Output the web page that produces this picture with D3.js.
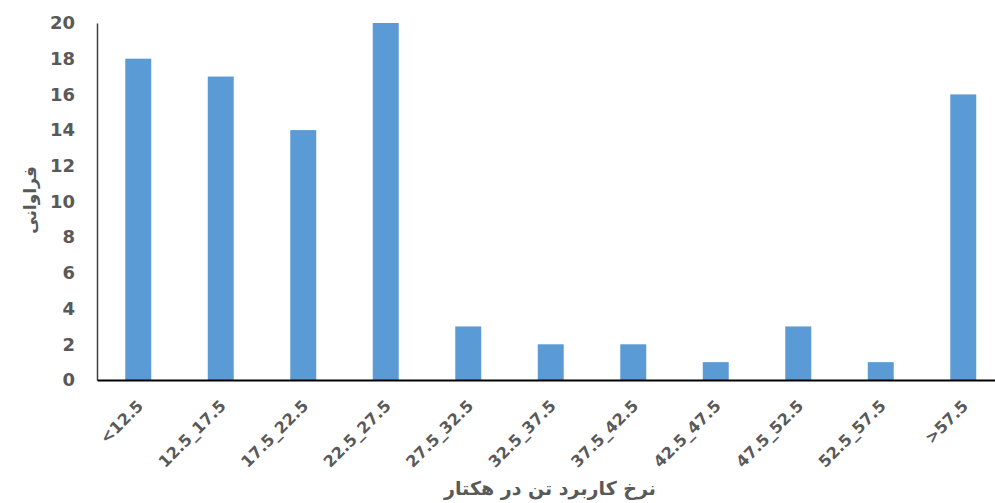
<!DOCTYPE html>
<html>
<head>
<meta charset="utf-8">
<script src="https://cdn.jsdelivr.net/npm/d3@7"></script>
<style>
  body { margin: 0; background: #fff; }
  text { font-family: "DejaVu Sans", Verdana, sans-serif; fill: #595959; }
</style>
</head>
<body>
<div id="chart"></div>
<script>
"use strict";

const categories = ["<12.5", "12.5_17.5", "17.5_22.5", "22.5_27.5", "27.5_32.5", "32.5_37.5",
    "37.5_42.5", "42.5_47.5", "47.5_52.5", "52.5_57.5", ">57.5"];
const counts = [18, 17, 14, 20, 3, 2, 2, 1, 3, 1, 16];
const yTicks = [0, 2, 4, 6, 8, 10, 12, 14, 16, 18, 20];
const xTitle = "نرخ کاربرد تن در هکتار";
const yTitle = "فراوانی";

const plot = {
    width: 995,
    height: 503,
    left: 97,
    top: 23,
    bottom: 380,
    step: 82.5
}

let svg = d3.select("#chart")
    .append("svg")
    .attr("width", plot.width)
    .attr("height", plot.height);

let xScale = d3.scaleBand()
    .domain(categories)
    .range([plot.left, plot.left + plot.step * categories.length])
    .paddingInner(0.685)
    .paddingOuter(0.3425);

let yScale = d3.scaleLinear()
    .domain([0, 20])
    .range([plot.bottom, plot.top]);

// bars
svg.selectAll(".bar")
    .data(categories)
    .enter()
    .append("rect")
    .attr("class", "bar")
    .attr("x", (d) => xScale(d))
    .attr("width", xScale.bandwidth())
    .attr("y", (d, i) => yScale(counts[i]))
    .attr("height", (d, i) => plot.bottom - yScale(counts[i]))
    .attr("fill", "#5b9bd5");

// y axis
let yAxis = d3.axisLeft(yScale).tickValues(yTicks).tickSize(0).tickPadding(22);
let gy = svg.append("g")
    .attr("transform", "translate(" + plot.left + ",0)")
    .call(yAxis);
gy.select(".domain").attr("stroke", "#404040").attr("stroke-width", 1.5);
gy.selectAll("text")
    .style("font-size", "18px")
    .style("font-weight", "bold")
    .style("fill", "#595959")
    .style("font-family", "DejaVu Sans, sans-serif");

// x axis
let xAxis = d3.axisBottom(xScale).tickSize(0);
let gx = svg.append("g")
    .attr("transform", "translate(0," + plot.bottom + ")")
    .call(xAxis);
gx.select(".domain").attr("stroke", "#000").attr("stroke-width", 2);
gx.selectAll("text")
    .style("font-size", "16px")
    .style("font-weight", "bold")
    .style("fill", "#595959")
    .style("font-family", "DejaVu Sans, sans-serif")
    .attr("text-anchor", "end")
    .attr("x", 0)
    .attr("y", 0)
    .attr("dy", 0)
    .attr("transform", "translate(6,27) rotate(-45)");

// titles
svg.append("text")
    .attr("x", 550)
    .attr("y", 495)
    .attr("text-anchor", "middle")
    .style("font-size", "19px")
    .style("font-weight", "bold")
    .text(xTitle);

svg.append("text")
    .attr("transform", "translate(36,200) rotate(-90)")
    .attr("text-anchor", "middle")
    .style("font-size", "17px")
    .style("font-weight", "bold")
    .text(yTitle);
</script>
</body>
</html>
